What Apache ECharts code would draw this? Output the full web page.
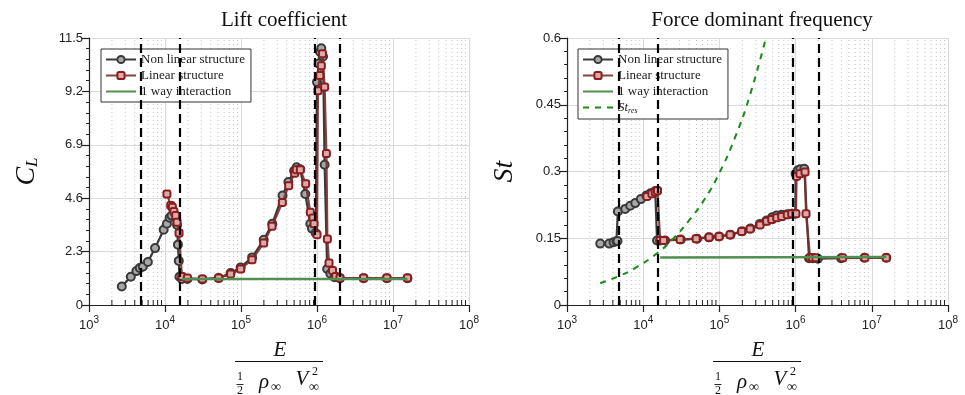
<!DOCTYPE html>
<html><head><meta charset="utf-8">
<script src="https://cdn.jsdelivr.net/npm/echarts@6/dist/echarts.min.js"></script>
<style>html,body{margin:0;padding:0;background:#fff}#c{width:965px;height:395px}</style>
</head><body><div id="c"></div>
<script>
// ---------- DATA ----------
const titles = ['Lift coefficient', 'Force dominant frequency'];
const clTicks = [0, 2.3, 4.6, 6.9, 9.2, 11.5];
const stTicks = [0, 0.15, 0.3, 0.45, 0.6];
const xDecades = [1e3, 1e4, 1e5, 1e6, 1e7, 1e8];
const dashedE = [4750, 15700, 925000, 2020000];

// Lift coefficient, non linear structure [E, CL]
const clNonLinear = [
  [2700,0.80],[3550,1.22],[4200,1.46],[4650,1.59],[5100,1.65],[5950,1.85],[7400,2.45],
  [9600,3.24],[10600,3.50],[11500,3.76],[12200,3.85],[14400,3.45],[14800,2.60],[15200,1.90],
  [15500,1.22],[16700,1.12],[19700,1.12],[31000,1.10],[51000,1.16],[73000,1.38],[99000,1.62],
  [140000,2.05],[199000,2.81],[258000,3.50],[352000,4.72],[420000,5.30],[500000,5.78],
  [540000,5.93],[600000,5.85],[702000,4.78],[817000,3.50],[859000,3.29],[960000,3.10],
  [1000000,9.60],[1050000,10.40],[1100000,10.90],[1140000,11.06],[1200000,10.70],
  [1260000,6.04],[1360000,1.55],[1500000,1.35],[1700000,1.20],[2000000,1.15],
  [4100000,1.15],[8300000,1.15],[15500000,1.15]
];
// Lift coefficient, linear structure [E, CL]
const clLinear = [
  [10600,4.78],[11900,4.29],[12500,4.21],[13100,4.03],[13800,3.85],[14400,3.56],[15300,3.10],
  [16700,1.23],[19700,1.16],[31000,1.12],[50800,1.16],[73000,1.34],[99000,1.55],[139600,1.95],
  [198800,2.67],[256000,3.39],[350000,4.42],[424000,5.14],[509000,5.68],[535000,5.83],
  [604000,5.83],[710000,5.22],[818000,3.99],[886000,3.75],[914000,3.50],[1000000,3.03],
  [1030000,9.23],[1090000,9.88],[1140000,10.31],[1180000,10.82],[1260000,9.39],[1330000,6.52],
  [1370000,2.84],[1440000,1.81],[1600000,1.49],[1760000,1.23],[2000000,1.16],[4100000,1.16],
  [8300000,1.16],[15500000,1.16]
];
// Lift coefficient, 1 way interaction
const clOneWay = [[16700,1.12],[15500000,1.12]];

// Strouhal, non linear structure [E, St]
const stNonLinear = [
  [2730,0.138],[3580,0.138],[4080,0.141],[4450,0.143],[4600,0.144],[4650,0.210],[5800,0.216],
  [6760,0.223],[7860,0.229],[9330,0.238],[11000,0.246],[12500,0.251],[14400,0.256],
  [15100,0.256],[15200,0.145],[16700,0.145],[19400,0.145],[31200,0.147],[51000,0.149],
  [73000,0.152],[99000,0.154],[140000,0.158],[199000,0.166],[256000,0.172],[339000,0.182],
  [415000,0.190],[492000,0.197],[561000,0.201],[657000,0.203],[778000,0.204],[889000,0.205],
  [990000,0.205],[1000000,0.295],[1070000,0.303],[1150000,0.305],[1300000,0.306],
  [1500000,0.105],[1700000,0.105],[1960000,0.104],[3950000,0.105],[8000000,0.106],[15500000,0.106]
];
// Strouhal, linear structure [E, St]
const stLinear = [
  [11200,0.244],[13000,0.250],[14400,0.254],[15400,0.257],[16700,0.145],[18500,0.145],
  [30500,0.147],[49500,0.149],[73300,0.152],[99000,0.154],[138000,0.158],[196000,0.165],
  [253000,0.171],[341000,0.180],[417000,0.188],[486000,0.192],[565000,0.196],[657000,0.199],
  [778000,0.203],[889000,0.205],[1010000,0.205],[1030000,0.289],[1140000,0.295],[1330000,0.299],
  [1370000,0.205],[1550000,0.106],[1670000,0.106],[1850000,0.106],[4140000,0.106],
  [8100000,0.106],[15500000,0.106]
];
const stOneWay = [[16700,0.107],[15500000,0.108]];
// Resonance Strouhal curve
const stRes = [
  [2730,0.049],[4800,0.065],[8000,0.084],[15400,0.117],[25000,0.150],[40000,0.190],
  [63000,0.236],[100000,0.297],[160000,0.376],[250000,0.470],[407000,0.600]
];

// minor log grid positions (2..9 x each decade)
const minorX = [];
for (let e = 3; e < 8; e++) for (let m = 2; m < 10; m++) minorX.push([m * Math.pow(10, e)]);

// ---------- STYLE ----------
const SERIF = '"Liberation Serif", "DejaVu Serif", serif';
const SANS = '"Liberation Sans", Arial, sans-serif';
const GRAY_LINE = '#3a3a3a', RED_LINE = '#7a2e2e', GREEN = '#4f8f4f', RES_GREEN = '#1a8a1a';

const chart = echarts.init(document.getElementById('c'), null, {renderer: 'canvas'});

function xAxis(gi) {
  return {
    type: 'log', logBase: 10, gridIndex: gi, min: 1e3, max: 1e8,
    axisLine: {lineStyle: {color: '#222', width: 1.2}},
    axisTick: {show: true, length: 7, lineStyle: {color: '#222', width: 1.2}},
    splitLine: {show: true, lineStyle: {color: '#dadada', width: 1}},
    minorTick: {show: false}, minorSplitLine: {show: false},
    axisLabel: {
      margin: 10,
      formatter: v => '{b|10}{s|' + Math.round(Math.log10(v)) + '}',
      rich: {
        b: {fontFamily: SANS, fontSize: 13, color: '#222'},
        s: {fontFamily: SANS, fontSize: 10, color: '#222', padding: [0, 0, 11, 0]}
      }
    }
  };
}
function yAxis(gi, max, interval, name, sub) {
  return {
    type: 'value', gridIndex: gi, min: 0, max: max, interval: interval,
    name: '{c|' + name + '}' + (sub ? '{s|' + sub + '}' : ''), nameLocation: 'middle', nameRotate: 90, nameGap: 48,
    nameTextStyle: {
      rich: {
        c: {fontFamily: SERIF, fontStyle: 'italic', fontSize: 28, color: '#111'},
        s: {fontFamily: SERIF, fontStyle: 'italic', fontSize: 17, color: '#111', padding: [12, 0, 0, 0]}
      }
    },
    axisLine: {show: true, lineStyle: {color: '#222', width: 1.2}},
    axisTick: {show: true, length: 7, lineStyle: {color: '#222', width: 1.2}},
    minorTick: {show: true, splitNumber: 5, length: 3, lineStyle: {color: '#222', width: 1}},
    splitLine: {show: true, lineStyle: {color: '#dadada', width: 1}},
    axisLabel: {
      margin: 6, fontFamily: SANS, fontSize: 13, color: '#222',
      formatter: v => String(+v.toFixed(2))
    }
  };
}

function minorGridSeries(gi, ymax) {
  return {
    type: 'custom', xAxisIndex: gi, yAxisIndex: gi, silent: true, z: 0,
    data: minorX, encode: {x: 0},
    renderItem: (params, api) => {
      const x = api.value(0);
      const p0 = api.coord([x, 0]);
      const p1 = api.coord([x, ymax]);
      return {
        type: 'group', children: [
          {type: 'line', shape: {x1: p0[0], y1: p0[1], x2: p1[0], y2: p1[1]},
           style: {stroke: '#c4c4c4', lineWidth: 1, lineDash: [1, 3]}},
          {type: 'line', shape: {x1: p0[0], y1: p0[1], x2: p0[0], y2: p0[1] - 5},
           style: {stroke: '#222', lineWidth: 1}}
        ]
      };
    }
  };
}
function dashedSeries(gi) {
  return {
    type: 'line', xAxisIndex: gi, yAxisIndex: gi, data: [], silent: true, z: 10,
    markLine: {
      silent: true, symbol: ['none', 'none'], animation: false, label: {show: false},
      lineStyle: {color: '#000', width: 2.2, type: [9, 5]},
      data: dashedE.map(v => ({xAxis: v}))
    }
  };
}
function nonLinSeries(gi, data) {
  return {
    name: 'Non linear structure', type: 'line', xAxisIndex: gi, yAxisIndex: gi, data: data,
    symbol: 'circle', symbolSize: 8, z: 3,
    lineStyle: {color: GRAY_LINE, width: 2.2},
    itemStyle: {color: '#a8a8a8', borderColor: '#3a3a3a', borderWidth: 2}
  };
}
function linSeries(gi, data) {
  return {
    name: 'Linear structure', type: 'line', xAxisIndex: gi, yAxisIndex: gi, data: data,
    symbol: 'roundRect', symbolSize: 7, z: 4,
    lineStyle: {color: RED_LINE, width: 2.2, opacity: 0.9},
    itemStyle: {color: '#dcaaaa', borderColor: '#8a1e1e', borderWidth: 2}
  };
}
function oneWaySeries(gi, data) {
  return {
    name: '1 way interaction', type: 'line', xAxisIndex: gi, yAxisIndex: gi, data: data,
    symbol: 'none', z: 5, lineStyle: {color: GREEN, width: 2.5}, itemStyle: {color: GREEN}
  };
}

function fraction(cx) {
  const t = (text, x, y, size, italic) => ({
    type: 'text', x: x, y: y, silent: true,
    style: {text: text, font: (italic ? 'italic ' : '') + size + 'px ' + SERIF, fill: '#111',
            textAlign: 'center', textVerticalAlign: 'middle', align: 'center', verticalAlign: 'middle'}
  });
  const l = (x1, x2, y, w) => ({type: 'line', silent: true, shape: {x1: x1, y1: y, x2: x2, y2: y},
                                style: {stroke: '#111', lineWidth: w}});
  return [
    t('E', cx + 1, 350, 21, true),
    l(cx - 44, cx + 44, 361.5, 1.2),
    t('1', cx - 39, 377, 12, false),
    l(cx - 42.5, cx - 35.5, 384.5, 0.9),
    t('2', cx - 39, 390.5, 12, false),
    t('ρ', cx - 15, 382, 21, true),
    t('∞', cx - 3, 387, 14, false),
    t('V', cx + 23, 379, 21, true),
    t('∞', cx + 35, 387, 14, false),
    t('2', cx + 36, 372, 12, false)
  ];
}

const legendBase = {
  orient: 'vertical', itemGap: 3, itemWidth: 30, itemHeight: 9,
  padding: [4, 6, 4, 4], borderColor: '#333', borderWidth: 1, backgroundColor: '#fff',
  selectedMode: false,
  textStyle: {fontFamily: SERIF, fontSize: 13, color: '#222',
    rich: {i: {fontFamily: SERIF, fontStyle: 'italic', fontSize: 13, color: '#222'},
           s: {fontFamily: SERIF, fontStyle: 'italic', fontSize: 8, color: '#222', padding: [7, 0, 0, 0]}}},
  formatter: n => n === 'St_res' ? '{i|St}{s|res}' : n
};
const noSymbol = name => ({name: name, itemStyle: {opacity: 0}});

const option = {
  animation: false,
  backgroundColor: '#fff',
  title: [
    {text: titles[0], left: 279, top: 5, textAlign: 'center',
     textStyle: {fontFamily: SERIF, fontWeight: 'normal', fontSize: 21, color: '#111'}},
    {text: titles[1], left: 757, top: 5, textAlign: 'center',
     textStyle: {fontFamily: SERIF, fontWeight: 'normal', fontSize: 21, color: '#111'}}
  ],
  grid: [
    {left: 89, right: 496, top: 38, bottom: 90, containLabel: false},
    {left: 567, right: 17, top: 38, bottom: 90, containLabel: false}
  ],
  legend: [
    Object.assign({}, legendBase, {left: 101, top: 49,
      data: ['Non linear structure', 'Linear structure', noSymbol('1 way interaction')]}),
    Object.assign({}, legendBase, {left: 578, top: 49,
      data: ['Non linear structure', 'Linear structure', noSymbol('1 way interaction'), noSymbol('St_res')]})
  ],
  xAxis: [xAxis(0), xAxis(1)],
  yAxis: [yAxis(0, 11.5, 2.3, 'C', 'L'), yAxis(1, 0.6, 0.15, 'St', '')],
  series: [
    minorGridSeries(0, 11.5), minorGridSeries(1, 0.6),
    nonLinSeries(0, clNonLinear), linSeries(0, clLinear), oneWaySeries(0, clOneWay),
    nonLinSeries(1, stNonLinear), linSeries(1, stLinear), oneWaySeries(1, stOneWay),
    {name: 'St_res', type: 'line', xAxisIndex: 1, yAxisIndex: 1, data: stRes, smooth: true,
     symbol: 'none', z: 6, lineStyle: {color: RES_GREEN, width: 2, type: [6, 6]}, itemStyle: {color: RES_GREEN}},
    dashedSeries(0), dashedSeries(1)
  ],
  graphic: fraction(279).concat(fraction(757))
};
chart.setOption(option);
</script></body></html>
